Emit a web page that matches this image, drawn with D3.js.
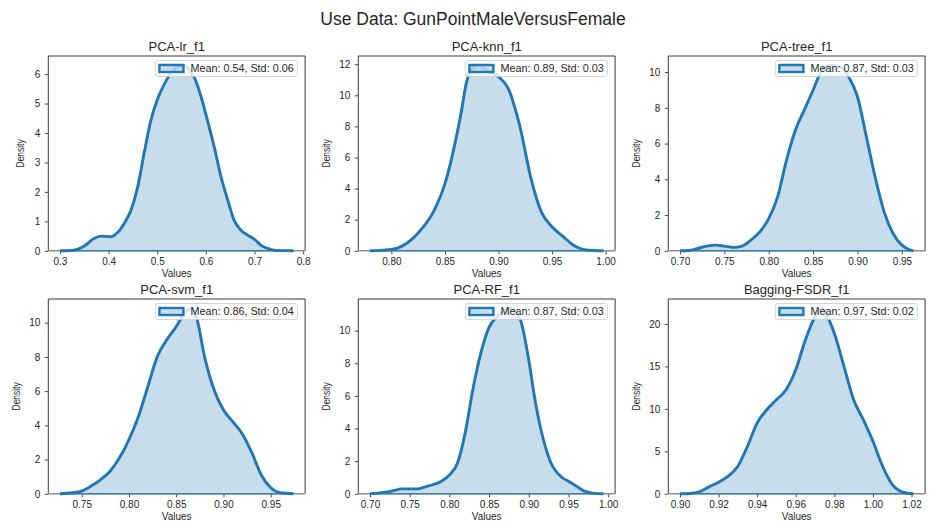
<!DOCTYPE html>
<html>
<head>
<meta charset="utf-8">
<script src="https://cdn.jsdelivr.net/npm/d3@7"></script>
<style>
  html, body { margin: 0; padding: 0; background: #ffffff; }
  svg { display: block; font-family: Arial, "Liberation Sans", Helvetica, sans-serif; }
</style>
</head>
<body>
<svg id="chart" width="930" height="524"></svg>
<script>
// Figure title and per-panel labels
const figureTitle = "Use Data: GunPointMaleVersusFemale";
const panelTitles = ["PCA-lr_f1", "PCA-knn_f1", "PCA-tree_f1", "PCA-svm_f1", "PCA-RF_f1", "Bagging-FSDR_f1"];
const legendLabels = [
  "Mean: 0.54, Std: 0.06",
  "Mean: 0.89, Std: 0.03",
  "Mean: 0.87, Std: 0.03",
  "Mean: 0.86, Std: 0.04",
  "Mean: 0.87, Std: 0.03",
  "Mean: 0.97, Std: 0.02"
];

// Kernel density estimates of F1 scores (value, density)
const lrX = [0.300, 0.329, 0.350, 0.370, 0.384, 0.405, 0.418, 0.432, 0.446, 0.460, 0.473, 0.487, 0.500, 0.514, 0.528, 0.542, 0.552, 0.563, 0.577, 0.590, 0.603, 0.617, 0.631, 0.645, 0.658, 0.672, 0.686, 0.700, 0.713, 0.727, 0.740, 0.760, 0.780];
const lrDensity = [0.00, 0.02, 0.16, 0.42, 0.50, 0.48, 0.61, 0.93, 1.38, 2.18, 3.31, 4.44, 5.12, 5.64, 6.03, 6.26, 6.30, 6.20, 5.86, 5.24, 4.44, 3.54, 2.52, 1.72, 1.04, 0.70, 0.53, 0.39, 0.19, 0.08, 0.02, 0.005, 0.00];

const knnX = [0.780, 0.790, 0.800, 0.810, 0.820, 0.830, 0.840, 0.850, 0.860, 0.865, 0.870, 0.875, 0.882, 0.890, 0.900, 0.910, 0.915, 0.920, 0.930, 0.940, 0.950, 0.960, 0.970, 0.980, 0.990, 0.998];
const knnDensity = [0.00, 0.03, 0.08, 0.30, 0.80, 1.55, 2.60, 4.30, 7.10, 8.84, 10.80, 11.70, 11.93, 11.55, 11.20, 10.30, 9.27, 8.00, 4.76, 2.50, 1.55, 0.94, 0.36, 0.08, 0.02, 0.00];

const treeX = [0.700, 0.710, 0.720, 0.730, 0.740, 0.750, 0.760, 0.770, 0.780, 0.790, 0.800, 0.810, 0.820, 0.830, 0.840, 0.850, 0.860, 0.870, 0.880, 0.890, 0.900, 0.910, 0.920, 0.930, 0.940, 0.950, 0.960, 0.963];
const treeDensity = [0.00, 0.02, 0.13, 0.26, 0.32, 0.26, 0.19, 0.26, 0.60, 1.06, 1.80, 3.02, 5.07, 6.75, 7.87, 8.99, 10.10, 10.38, 10.30, 9.74, 8.62, 6.38, 4.10, 2.18, 0.97, 0.32, 0.04, 0.00];

const svmX = [0.727, 0.740, 0.750, 0.760, 0.770, 0.780, 0.790, 0.800, 0.810, 0.820, 0.830, 0.840, 0.850, 0.860, 0.866, 0.872, 0.880, 0.890, 0.900, 0.910, 0.920, 0.930, 0.940, 0.950, 0.960, 0.974];
const svmDensity = [0.00, 0.06, 0.16, 0.45, 0.83, 1.32, 2.10, 3.17, 4.52, 6.27, 8.02, 9.00, 9.77, 10.64, 10.84, 10.20, 8.00, 6.08, 4.90, 4.20, 3.50, 2.40, 1.10, 0.35, 0.06, 0.00];

const rfX = [0.700, 0.710, 0.720, 0.730, 0.740, 0.750, 0.760, 0.770, 0.780, 0.790, 0.800, 0.810, 0.820, 0.830, 0.840, 0.850, 0.860, 0.870, 0.876, 0.882, 0.890, 0.900, 0.907, 0.915, 0.927, 0.942, 0.950, 0.960, 0.970, 0.980, 0.994];
const rfDensity = [0.00, 0.04, 0.10, 0.20, 0.30, 0.30, 0.30, 0.43, 0.57, 0.77, 1.15, 1.85, 3.75, 6.50, 8.70, 10.20, 10.85, 11.25, 11.37, 11.25, 10.60, 8.20, 6.00, 4.00, 2.00, 1.00, 0.77, 0.47, 0.16, 0.04, 0.00];

const fsdrX = [0.900, 0.905, 0.910, 0.915, 0.920, 0.925, 0.930, 0.935, 0.940, 0.945, 0.950, 0.955, 0.960, 0.965, 0.970, 0.9735, 0.977, 0.980, 0.985, 0.990, 0.995, 1.000, 1.005, 1.010, 1.015, 1.021];
const fsdrDensity = [0.00, 0.04, 0.23, 0.82, 1.37, 2.07, 3.25, 5.60, 8.34, 9.90, 11.08, 12.25, 14.60, 18.12, 20.86, 21.85, 20.60, 18.90, 15.00, 11.08, 8.73, 6.20, 3.25, 1.10, 0.23, 0.00];

// Tick values for each panel
const xTickValues = [
  [0.3, 0.4, 0.5, 0.6, 0.7, 0.8],
  [0.80, 0.85, 0.90, 0.95, 1.00],
  [0.70, 0.75, 0.80, 0.85, 0.90, 0.95],
  [0.75, 0.80, 0.85, 0.90, 0.95],
  [0.70, 0.75, 0.80, 0.85, 0.90, 0.95, 1.00],
  [0.90, 0.92, 0.94, 0.96, 0.98, 1.00, 1.02]
];
const xTickDecimals = [1, 2, 2, 2, 2, 2];
const yTickValues = [
  [0, 1, 2, 3, 4, 5, 6],
  [0, 2, 4, 6, 8, 10, 12],
  [0, 2, 4, 6, 8, 10],
  [0, 2, 4, 6, 8, 10],
  [0, 2, 4, 6, 8, 10],
  [0, 5, 10, 15, 20]
];

const seriesX = [lrX, knnX, treeX, svmX, rfX, fsdrX];
const seriesDensity = [lrDensity, knnDensity, treeDensity, svmDensity, rfDensity, fsdrDensity];

// Layout
const colLeft = [48.3, 358.3, 668.3];
const rowTop = [56, 299];
const panelW = 256.8;
const panelH = 194.8;
const blue = "#1f77b4";
const fillBlue = "rgba(31,119,180,0.25)";
const textColor = "#262626";
const fontStack = "Arial, 'Liberation Sans', sans-serif";

const svg = d3.select("#chart");
svg.append("rect").attr("width", 930).attr("height", 524).attr("fill", "#ffffff");

svg.append("text")
  .attr("x", 473).attr("y", 25)
  .attr("text-anchor", "middle")
  .attr("font-size", 17.5)
  .attr("fill", textColor)
  .text(figureTitle);

panelTitles.forEach((title, i) => {
  const col = i % 3, row = Math.floor(i / 3);
  const xs = seriesX[i], ds = seriesDensity[i];
  const pts = xs.map((v, k) => [v, ds[k]]);

  const [xmin, xmax] = d3.extent(xs);
  const span = xmax - xmin;
  const x = d3.scaleLinear()
    .domain([xmin - 0.05 * span, xmax + 0.05 * span])
    .range([0, panelW]);
  const y = d3.scaleLinear()
    .domain([0, d3.max(ds) * 1.05])
    .range([panelH, 0]);

  const g = svg.append("g")
    .attr("transform", `translate(${colLeft[col]},${rowTop[row]})`);

  // Filled density
  g.append("path")
    .datum(pts)
    .attr("fill", fillBlue)
    .attr("d", d3.area()
      .x(d => x(d[0]))
      .y0(y(0))
      .y1(d => y(d[1]))
      .curve(d3.curveMonotoneX));

  // Axes
  const xAxis = d3.axisBottom(x)
    .tickValues(xTickValues[i])
    .tickFormat(d3.format(`.${xTickDecimals[i]}f`))
    .tickSize(3.5)
    .tickPadding(3.5);
  const xg = g.append("g").attr("transform", `translate(0,${panelH})`).call(xAxis);
  xg.select(".domain").remove();
  xg.selectAll(".tick line").attr("stroke", "#333333").attr("stroke-width", 0.9);
  xg.selectAll(".tick text").attr("font-size", 10).attr("fill", textColor)
    .attr("font-family", fontStack);

  const yAxis = d3.axisLeft(y)
    .tickValues(yTickValues[i])
    .tickFormat(d3.format("d"))
    .tickSize(3.5)
    .tickPadding(4.5);
  const yg = g.append("g").call(yAxis);
  yg.select(".domain").remove();
  yg.selectAll(".tick line").attr("stroke", "#333333").attr("stroke-width", 0.9);
  yg.selectAll(".tick text").attr("font-size", 10).attr("fill", textColor)
    .attr("font-family", fontStack);

  // Frame: dark top/left/right, lighter bottom
  g.append("line").attr("x1", 0).attr("x2", panelW).attr("y1", 0).attr("y2", 0)
    .attr("stroke", "#3a3a3a").attr("stroke-width", 1);
  g.append("line").attr("x1", 0).attr("x2", 0).attr("y1", 0).attr("y2", panelH)
    .attr("stroke", "#3a3a3a").attr("stroke-width", 1);
  g.append("line").attr("x1", panelW).attr("x2", panelW).attr("y1", 0).attr("y2", panelH)
    .attr("stroke", "#3a3a3a").attr("stroke-width", 1);
  g.append("line").attr("x1", 0).attr("x2", panelW).attr("y1", panelH).attr("y2", panelH)
    .attr("stroke", "#8f8f8f").attr("stroke-width", 1.4);

  // Baseline of the filled region
  g.append("line")
    .attr("x1", x(xmin)).attr("x2", x(xmax))
    .attr("y1", y(0)).attr("y2", y(0))
    .attr("stroke", blue).attr("stroke-opacity", 0.75).attr("stroke-width", 1.6);

  // Density curve
  g.append("path")
    .datum(pts)
    .attr("fill", "none")
    .attr("stroke", blue)
    .attr("stroke-width", 2.9)
    .attr("stroke-linejoin", "round")
    .attr("d", d3.line()
      .x(d => x(d[0]))
      .y(d => y(d[1]))
      .curve(d3.curveMonotoneX));

  // Panel title
  g.append("text")
    .attr("x", panelW / 2).attr("y", -5)
    .attr("text-anchor", "middle")
    .attr("font-size", 13)
    .attr("fill", textColor)
    .text(title);

  // Axis labels
  g.append("text")
    .attr("x", panelW / 2).attr("y", panelH + 26.5)
    .attr("text-anchor", "middle")
    .attr("font-size", 10)
    .attr("fill", textColor)
    .text("Values");

  const maxDigits = d3.max(yTickValues[i], v => String(v).length);
  const labelOffset = maxDigits > 1 ? 31.6 : 27.6;
  g.append("text")
    .attr("transform", `translate(${-labelOffset + 3.5},${panelH / 2}) rotate(-90)`)
    .attr("text-anchor", "middle")
    .attr("font-size", 10)
    .attr("fill", textColor)
    .attr("textLength", 28)
    .attr("lengthAdjust", "spacingAndGlyphs")
    .text("Density");

  // Legend
  const boxW = 142, boxH = 16;
  const lg = g.append("g").attr("transform", `translate(${panelW - 7.7 - boxW},4.5)`);
  lg.append("rect")
    .attr("width", boxW).attr("height", boxH).attr("rx", 2)
    .attr("fill", "#ffffff").attr("fill-opacity", 0.8)
    .attr("stroke", "#cccccc").attr("stroke-width", 0.8);
  lg.append("rect")
    .attr("x", 4).attr("y", 4.5).attr("width", 24).attr("height", 7)
    .attr("fill", fillBlue)
    .attr("stroke", blue).attr("stroke-width", 2.4);
  lg.append("text")
    .attr("x", 35).attr("y", 11.9)
    .attr("font-size", 10.8)
    .attr("fill", textColor)
    .text(legendLabels[i]);
});
</script>
</body>
</html>
